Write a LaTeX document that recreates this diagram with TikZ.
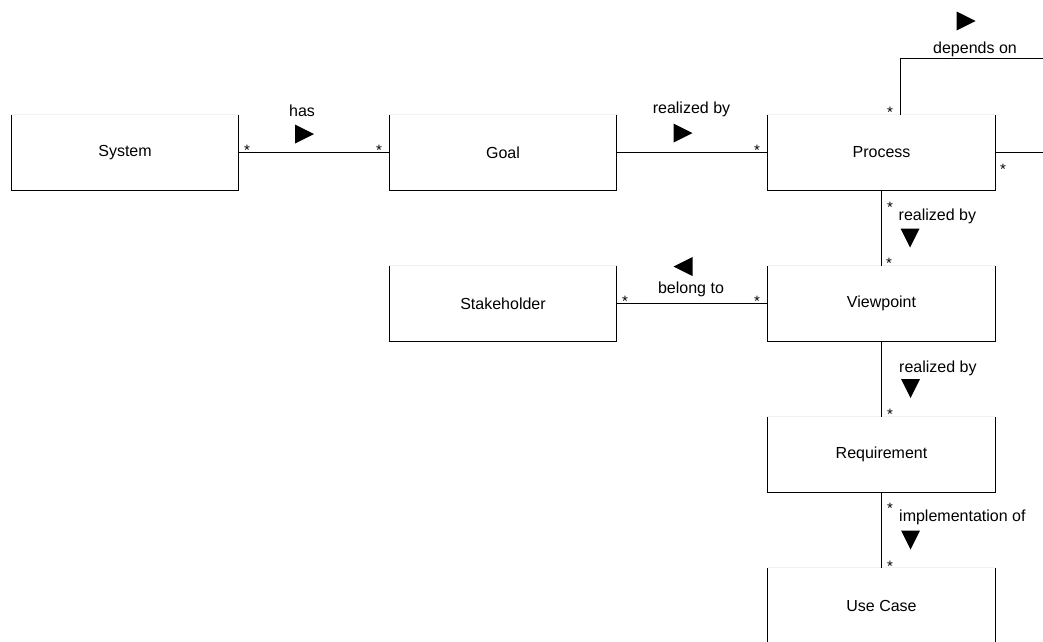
\documentclass[tikz,border=0pt]{standalone}
\usepackage{fontspec}
\setmainfont{Liberation Sans}
\begin{document}
\begin{tikzpicture}[x=1pt,y=-1pt,
  cls/.style={minimum width=227pt, minimum height=75pt, inner sep=0pt, draw=none, font=\fontsize{16}{19}\selectfont},
  side/.style={draw=black, line width=1pt},
  topline/.style={draw=black!5, line width=1pt},
  conn/.style={draw=black, line width=1pt},
  lbl/.style={anchor=base, inner sep=0pt, font=\fontsize{16}{19}\selectfont},
  lbll/.style={anchor=base west, inner sep=0pt, font=\fontsize{16}{19}\selectfont},
  mult/.style={anchor=base, inner sep=0pt, font=\fontsize{15}{18}\selectfont},
  triR/.pic={\fill[black] (-9.5,-9.5) -- (9.5,0) -- (-9.5,9.5) -- cycle;},
  triL/.pic={\fill[black] (9.5,-9.5) -- (-9.5,0) -- (9.5,9.5) -- cycle;},
  triD/.pic={\fill[black] (-9.5,-9.5) -- (9.5,-9.5) -- (0,9.5) -- cycle;}
]
\useasboundingbox (0,0) rectangle (1043,641);
\clip (0,0) rectangle (1043,641);

% classes
\node[cls] (sys) at (125,152.5) {System};
\node[cls] (goal) at (503,152.5) {Goal};
\node[cls] (proc) at (881.5,152.5) {Process};
\node[cls] (stake) at (503,303.5) {Stakeholder};
\node[cls] (view) at (881.5,303.5) {Viewpoint};
\node[cls] (req) at (881.5,454.5) {Requirement};
\node[cls] (uc) at (881.5,605.5) {Use Case};

\foreach \n in {sys,goal,proc,stake,view,req,uc}{
  \draw[topline] (\n.north west) -- (\n.north east);
  \draw[side] (\n.north west) -- (\n.south west) -- (\n.south east) -- (\n.north east);
}

% connectors
\draw[conn] (sys.east) -- (goal.west);
\draw[conn] (goal.east) -- (proc.west);
\coordinate (d1) at (900,58);
\coordinate (d2) at (1060,58);
\coordinate (d3) at (1060,152.5);
\draw[conn] (proc.north -| d1) -- (d1) -- (d2) -- (d3) -- (proc.east);
\draw[conn] (proc.south) -- (view.north);
\draw[conn] (stake.east) -- (view.west);
\draw[conn] (view.south) -- (req.north);
\draw[conn] (req.south) -- (uc.north);

% labels
\node[lbl] (l1) at (302,116.5) {has};
\node[lbl] (l2) at (691.5,113.7) {realized by};
\node[lbl] (l3) at (975,53.5) {depends on};
\node[lbll] (l4) at (898.5,220.5) {realized by};
\node[lbl] (l5) at (691,293.5) {belong to};
\node[lbll] (l6) at (899,372) {realized by};
\node[lbll] (l7) at (899,521.5) {implementation of};

% direction triangles
\pic at (304.5,134) {triR};
\pic at (683,133) {triR};
\pic at (966,21) {triR};
\pic at (910,238) {triD};
\pic at (683,266.5) {triL};
\pic at (910.5,388.5) {triD};
\pic at (910.5,540) {triD};

% multiplicities
\foreach \x/\y [count=\i] in {247/147,379/147,757/147,890/109,1003/166,890/204,889/260,625/298,757/298,890/411,890/505,890/563}{
  \node[mult] (m\i) at (\x,\y+8.3) {*};
}
\end{tikzpicture}
\end{document}
